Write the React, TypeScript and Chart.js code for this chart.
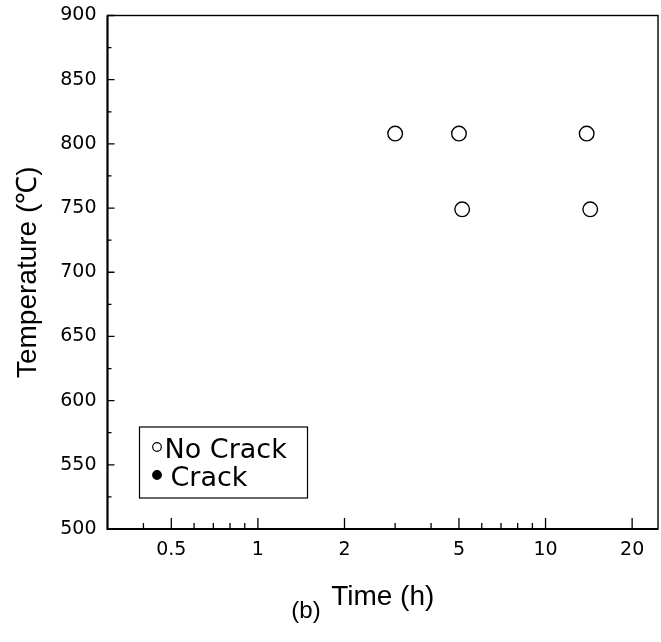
import React, { useEffect, useRef } from "react";
import { Chart, registerables } from "chart.js";

Chart.register(...registerables);

// ---- data ----
const seriesNames = ["No Crack", "Crack"];
const noCrackTime = [3.0, 5.0, 13.9, 5.13, 14.3];
const noCrackTemp = [808, 808, 808, 749, 749];
const crackTime: number[] = [];
const crackTemp: number[] = [];

const xMajorTicks = [0.5, 1, 2, 5, 10, 20];
const xMinorTicks = [0.4, 0.6, 0.7, 0.8, 0.9, 3, 4, 6, 7, 8, 9];
const yMajorTicks = [500, 550, 600, 650, 700, 750, 800, 850, 900];
const yMinorTicks = [525, 575, 625, 675, 725, 775, 825, 875];
const xRange = [0.3, 24.6];
const yRange = [500, 900];

const xTitle = "Time (h)";
const yTitle = "Temperature (℃)";
const panelLabel = "(b)";

const toPoints = (xs: number[], ys: number[]) => xs.map((x, i) => ({ x, y: ys[i] }));

const decorPlugin = {
  id: "decor",
  afterDatasetsDraw(chart: any) {
    const { ctx, chartArea: a, scales } = chart;
    const xs = scales.x;
    const ys = scales.y;
    ctx.save();
    ctx.strokeStyle = "#000";
    ctx.fillStyle = "#000";

    // frame
    ctx.lineWidth = 1.4;
    ctx.strokeRect(a.left, a.top, a.right - a.left, a.bottom - a.top);
    ctx.lineWidth = 2;
    ctx.beginPath();
    ctx.moveTo(a.left, a.top);
    ctx.lineTo(a.left, a.bottom);
    ctx.lineTo(a.right, a.bottom);
    ctx.stroke();

    // inward ticks
    ctx.lineWidth = 1.3;
    ctx.beginPath();
    for (const v of xMajorTicks) {
      const px = xs.getPixelForValue(v);
      ctx.moveTo(px, a.bottom);
      ctx.lineTo(px, a.bottom - 11);
    }
    for (const v of xMinorTicks) {
      const px = xs.getPixelForValue(v);
      ctx.moveTo(px, a.bottom);
      ctx.lineTo(px, a.bottom - 6);
    }
    for (const v of yMajorTicks) {
      const py = ys.getPixelForValue(v);
      ctx.moveTo(a.left, py);
      ctx.lineTo(a.left + 7, py);
    }
    for (const v of yMinorTicks) {
      const py = ys.getPixelForValue(v);
      ctx.moveTo(a.left, py);
      ctx.lineTo(a.left + 4, py);
    }
    ctx.stroke();

    // legend box
    const lx = a.left + 32;
    const ly = a.bottom - 102;
    const lw = 168;
    const lh = 71;
    ctx.lineWidth = 1.2;
    ctx.fillStyle = "#fff";
    ctx.fillRect(lx, ly, lw, lh);
    ctx.strokeRect(lx, ly, lw, lh);
    ctx.fillStyle = "#000";
    ctx.font = "27px 'DejaVu Sans'";
    ctx.textAlign = "left";
    ctx.textBaseline = "alphabetic";
    const ds = chart.data.datasets;
    const rows = [
      { cy: ly + 20, base: ly + 31, tx: lx + 25 },
      { cy: ly + 48, base: ly + 59, tx: lx + 31 },
    ];
    rows.forEach((r, i) => {
      const d = ds[i];
      ctx.beginPath();
      ctx.arc(lx + 17.5, r.cy, 4.3, 0, Math.PI * 2);
      ctx.fillStyle = d.backgroundColor;
      ctx.fill();
      ctx.lineWidth = 1.2;
      ctx.strokeStyle = "#000";
      ctx.stroke();
      ctx.fillStyle = "#000";
      ctx.fillText(d.label, r.tx, r.base);
    });

    // panel label
    ctx.font = "24px 'Liberation Sans'";
    ctx.textAlign = "center";
    ctx.textBaseline = "middle";
    ctx.fillText(panelLabel, 306, 611);
    ctx.restore();
  },
};

export default function App() {
  const ref = useRef<HTMLCanvasElement | null>(null);

  useEffect(() => {
    if (!ref.current) return;
    const chart = new Chart(ref.current, {
      type: "scatter",
      data: {
        datasets: [
          {
            label: seriesNames[0],
            data: toPoints(noCrackTime, noCrackTemp),
            pointStyle: "circle",
            pointRadius: 7.3,
            pointBorderWidth: 1.4,
            borderColor: "#000",
            backgroundColor: "#fff",
          },
          {
            label: seriesNames[1],
            data: toPoints(crackTime, crackTemp),
            pointStyle: "circle",
            pointRadius: 7.3,
            pointBorderWidth: 1.4,
            borderColor: "#000",
            backgroundColor: "#000",
          },
        ],
      },
      options: {
        animation: false,
        responsive: true,
        maintainAspectRatio: false,
        layout: { autoPadding: false, padding: { left: 0, right: 3, top: 15.5, bottom: 0 } },
        plugins: {
          legend: { display: false },
          tooltip: { enabled: false },
        },
        scales: {
          x: {
            type: "logarithmic",
            min: xRange[0],
            max: xRange[1],
            afterBuildTicks: (s: any) => {
              s.ticks = xMajorTicks.map((v) => ({ value: v }));
            },
            afterFit: (s: any) => {
              s.height = 113;
              s.paddingLeft = 0;
              s.paddingRight = 0;
            },
            grid: { display: false, drawTicks: false },
            border: { display: false },
            ticks: {
              autoSkip: false,
              maxRotation: 0,
              padding: 10,
              color: "#000",
              font: { family: "'DejaVu Sans'", size: 19 },
              callback: (v: any) => String(v),
            },
            title: {
              display: true,
              text: xTitle,
              color: "#000",
              font: { family: "'Liberation Sans'", size: 28 },
              padding: { top: 0, bottom: 28 },
            },
          },
          y: {
            type: "linear",
            min: yRange[0],
            max: yRange[1],
            afterBuildTicks: (s: any) => {
              s.ticks = yMajorTicks.map((v) => ({ value: v }));
            },
            afterFit: (s: any) => {
              s.width = 107.5;
              s.paddingTop = 0;
              s.paddingBottom = 0;
            },
            grid: { display: false, drawTicks: false },
            border: { display: false },
            ticks: {
              padding: 11,
              color: "#000",
              font: { family: "'DejaVu Sans'", size: 19 },
              callback: (v: any) => String(v),
            },
            title: {
              display: true,
              text: yTitle,
              color: "#000",
              font: { family: "'Liberation Sans'", size: 28 },
              padding: { top: 11, bottom: 0 },
            },
          },
        },
      },
      plugins: [decorPlugin],
    } as any);
    return () => chart.destroy();
  }, []);

  return (
    <div
      style={{
        position: "fixed",
        left: 0,
        top: 0,
        width: 661,
        height: 642,
        background: "#fff",
      }}
    >
      <canvas ref={ref} />
    </div>
  );
}
